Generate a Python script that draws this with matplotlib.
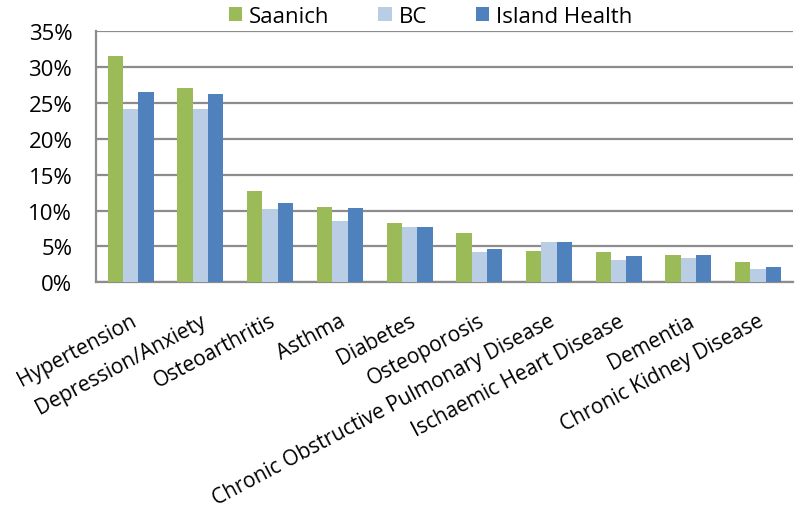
import matplotlib
matplotlib.use("Agg")
import matplotlib.pyplot as plt
import numpy as np

plt.rcParams['font.family'] = ['Open Sans', 'DejaVu Sans']

# Dades llegides del gràfic (percentatges)
categories = ['Hypertension', 'Depression/Anxiety', 'Osteoarthritis', 'Asthma', 'Diabetes',
              'Osteoporosis', 'Chronic Obstructive Pulmonary Disease', 'Ischaemic Heart Disease',
              'Dementia', 'Chronic Kidney Disease']
saanich = [31.5, 27.1, 12.7, 10.5, 8.3, 6.9, 4.3, 4.25, 3.8, 2.8]
bc = [24.1, 24.1, 10.2, 8.6, 7.75, 4.2, 5.6, 3.1, 3.4, 1.8]
island = [26.5, 26.2, 11.0, 10.4, 7.75, 4.6, 5.65, 3.6, 3.75, 2.2]

series = [('Saanich', saanich, '#9BBB59'),
          ('BC', bc, '#B9CDE5'),
          ('Island Health', island, '#4F81BD')]

fig = plt.figure(figsize=(7.99, 5.10), dpi=100)
ax = fig.add_axes([0.12, 0.4445, 0.8725, 0.4922])

x = np.arange(len(categories))
w = 0.22
for k, (nom, vals, col) in enumerate(series):
    ax.bar(x + (k - 1) * w, vals, w, color=col, label=nom, zorder=3)

ax.set_xlim(-0.5, len(categories) - 0.5)
ax.set_ylim(0, 35)
ax.set_yticks(range(0, 36, 5))
ax.set_yticklabels([f'{v}%' for v in range(0, 36, 5)], fontsize=16)
ax.set_xticks(x - 0.01)
ax.set_xticklabels(categories, rotation=28, ha='right', rotation_mode='anchor', fontsize=15)
ax.tick_params(axis='both', length=0)
ax.tick_params(axis='y', pad=17)
ax.tick_params(axis='x', pad=20)

ax.grid(axis='y', color='#8c8c8c', linewidth=1.6, zorder=0)
for s in ['top', 'right']:
    ax.spines[s].set_visible(False)
for s in ['left', 'bottom']:
    ax.spines[s].set_color('#8c8c8c')
    ax.spines[s].set_linewidth(1.6)

ax.legend(loc='upper center', bbox_to_anchor=(0.48, 1.18), ncol=3, frameon=False,
          fontsize=16, handlelength=0.6, handleheight=0.6, handletextpad=0.3,
          columnspacing=2.2)

fig.savefig('out.png', dpi=100)
